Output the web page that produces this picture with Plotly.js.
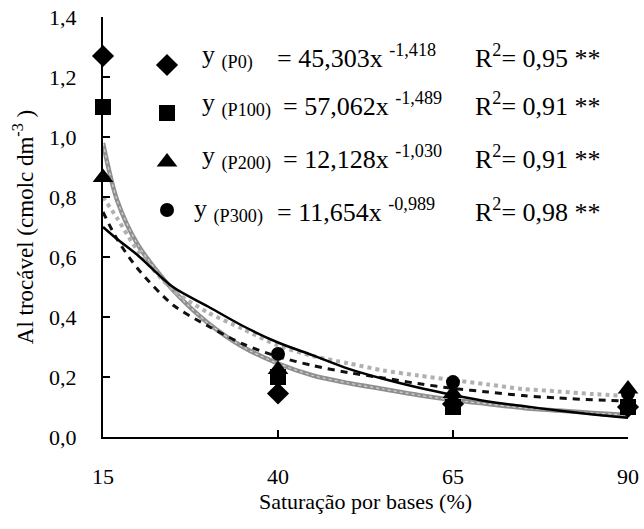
<!DOCTYPE html>
<html>
<head>
<meta charset="utf-8">
<script src="https://cdn.plot.ly/plotly-3.0.1.min.js"></script>
<style>html,body{margin:0;padding:0;background:#fff;}#chart{width:644px;height:529px;}</style>
</head>
<body>
<div id="chart"></div>
<script>
// ---- data ----
var doses = [15, 40, 65, 90];
var obsP0   = [1.27, 0.145, 0.11, 0.10];
var obsP100 = [1.10, 0.20, 0.10, 0.10];
var obsP200 = [0.865, 0.225, 0.145, 0.16];
var obsP300 = [1.10, 0.277, 0.183, 0.145];

var curveX = [15, 17, 20, 25, 30, 35, 40, 45, 50, 55, 60, 65, 70, 75, 80, 85, 90];
var curveGray   = [0.98, 0.79, 0.64, 0.49, 0.38, 0.30, 0.245, 0.205, 0.18, 0.16, 0.14, 0.123, 0.11, 0.097, 0.088, 0.08, 0.073];
var curveDotted = [0.80, 0.73, 0.62, 0.49, 0.415, 0.36, 0.305, 0.27, 0.246, 0.222, 0.205, 0.19, 0.175, 0.16, 0.152, 0.143, 0.137];
var curveDashed = [0.75, 0.66, 0.56, 0.44, 0.37, 0.31, 0.268, 0.238, 0.215, 0.197, 0.178, 0.162, 0.15, 0.138, 0.13, 0.124, 0.12];
var curveSolid  = [0.70, 0.66, 0.605, 0.50, 0.435, 0.37, 0.315, 0.272, 0.228, 0.194, 0.165, 0.14, 0.118, 0.103, 0.088, 0.075, 0.064];

var xTicks = [15, 40, 65, 90];
var yTicks = [0, 0.2, 0.4, 0.6, 0.8, 1.0, 1.2, 1.4];

var legendLabels = ['y <sub>(P0)</sub>', 'y <sub>(P100)</sub>', 'y <sub>(P200)</sub>', 'y <sub>(P300)</sub>'];
var legendEqs = ['= 45,303x <sup>-1,418</sup>', '= 57,062x <sup>-1,489</sup>', '= 12,128x <sup>-1,030</sup>', '= 11,654x <sup>-0,989</sup>'];
var legendR2 = ['R<sup>2</sup>= 0,95 **', 'R<sup>2</sup>= 0,91 **', 'R<sup>2</sup>= 0,91 **', 'R<sup>2</sup>= 0,98 **'];
var symbols = ['diamond', 'square', 'triangle-up', 'circle'];
var symSizes = [17, 16, 18, 14];

// ---- layout helpers (pixel geometry) ----
var L = 103, R = 628, T = 17, B = 437;
function px(x){ return (x - L) / (R - L); }
function py(y){ return (B - y) / (B - T); }

var FONT = 'Liberation Serif';

var traces = [];
function line(y, color, width, dash){
  traces.push({x: curveX, y: y, type: 'scatter', mode: 'lines', line: {color: color, width: width, dash: dash, shape: 'spline', smoothing: 0.8}, showlegend: false, hoverinfo: 'skip'});
}
line(curveGray, '#8f8f8f', 4.5, 'solid');
line(curveGray, '#d4d4d4', 1.2, 'dot');
line(curveDotted, '#b0b0b0', 4, 'dot');
line(curveDashed, '#111', 3, '7px,6px');
line(curveSolid, '#000', 2.5, 'solid');

// drawing order: circles, diamonds, squares, triangles
var obs = [obsP300, obsP0, obsP100, obsP200];
var obsSym = [3, 0, 1, 2];
for (var i = 0; i < obs.length; i++){
  var k = obsSym[i];
  traces.push({x: doses, y: obs[i], type: 'scatter', mode: 'markers', cliponaxis: false,
    marker: {symbol: symbols[k], size: symSizes[k], color: '#000', line: {width: 0}}, showlegend: false, hoverinfo: 'skip'});
}

// legend keys drawn on a hidden overlay axis in pixel units
var keyX = [167, 167, 167, 167];
var keyY = [65, 113, 162, 210];
for (var j = 0; j < 4; j++){
  traces.push({x: [keyX[j]], y: [keyY[j]], xaxis: 'x2', yaxis: 'y2', type: 'scatter', mode: 'markers', cliponaxis: false,
    marker: {symbol: symbols[j], size: symSizes[j], color: '#000'}, showlegend: false, hoverinfo: 'skip'});
}

var rowY = [56, 104, 157, 210];
var labX = [200, 200, 200, 192];
var eqX = [275, 281, 281, 275];
var annotations = [];
for (var r = 0; r < 4; r++){
  annotations.push({xref: 'paper', yref: 'paper', x: px(labX[r]), y: py(rowY[r]), xanchor: 'left', yanchor: 'middle', showarrow: false, text: legendLabels[r], font: {family: FONT, size: 26, color: '#000'}});
  annotations.push({xref: 'paper', yref: 'paper', x: px(eqX[r]), y: py(rowY[r]), xanchor: 'left', yanchor: 'middle', showarrow: false, text: legendEqs[r], font: {family: FONT, size: 26, color: '#000'}});
  annotations.push({xref: 'paper', yref: 'paper', x: px(473), y: py(rowY[r]), xanchor: 'left', yanchor: 'middle', showarrow: false, text: legendR2[r], font: {family: FONT, size: 26, color: '#000'}});
}

var layout = {
  width: 644, height: 529,
  margin: {l: L, r: 644 - R, t: T, b: 529 - B},
  paper_bgcolor: '#fff', plot_bgcolor: '#fff',
  separators: ',.',
  showlegend: false,
  font: {family: FONT, color: '#000', size: 21},
  xaxis: {
    range: [15, 90], tickvals: xTicks, ticktext: xTicks.map(String),
    ticks: 'inside', ticklen: 7, tickwidth: 1.5, tickcolor: '#000',
    showline: true, linecolor: '#000', linewidth: 2, mirror: false,
    showgrid: false, zeroline: false,
    tickfont: {family: FONT, size: 22, color: '#000'},
    ticklabelstandoff: 19,
    title: {text: 'Saturação por bases (%)', font: {family: FONT, size: 22, color: '#000'}, standoff: 4}
  },
  yaxis: {
    range: [0, 1.4], tickvals: yTicks, tickformat: '.1f',
    ticks: 'inside', ticklen: 7, tickwidth: 1.5, tickcolor: '#000',
    showline: true, linecolor: '#000', linewidth: 2, mirror: false,
    showgrid: false, zeroline: false,
    tickfont: {family: FONT, size: 22, color: '#000'},
    ticklabelstandoff: 20,
    title: {text: 'Al trocável (cmolc dm<sup>-3</sup> )', font: {family: FONT, size: 23, color: '#000'}, standoff: 9}
  },
  xaxis2: {overlaying: 'x', range: [L, R], visible: false, fixedrange: true},
  yaxis2: {overlaying: 'y', range: [B, T], visible: false, fixedrange: true},
  annotations: annotations
};

Plotly.newPlot('chart', traces, layout, {staticPlot: true, displayModeBar: false});
</script>
</body>
</html>
